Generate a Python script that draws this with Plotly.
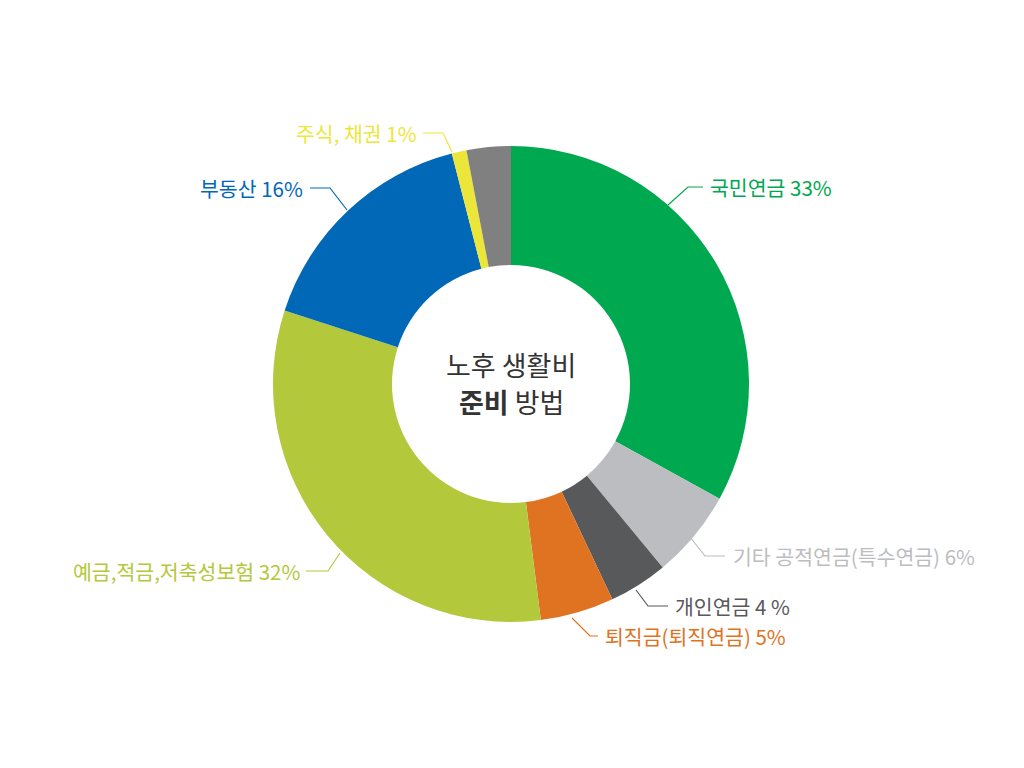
import plotly.graph_objects as go

labels = ["국민연금", "기타 공적연금(특수연금)", "개인연금", "퇴직금(퇴직연금)",
          "예금,적금,저축성보험", "부동산", "주식, 채권", "기타"]
values = [33, 6, 4, 5, 32, 16, 1, 3]
colors = ["#00a84f", "#bcbdc0", "#58595b", "#e07322",
          "#b3c83a", "#0068b6", "#ece63a", "#808080"]
label_texts = ["국민연금 33%", "기타 공적연금(특수연금) 6%", "개인연금 4 %", "퇴직금(퇴직연금) 5%",
               "예금,적금,저축성보험 32%", "부동산 16%", "주식, 채권 1%", None]
center_lines = ["노후 생활비", "<b>준비</b> 방법"]

W, H = 1024, 768
cx, cy, R = 511, 384, 238

fig = go.Figure(go.Pie(
    labels=labels, values=values, sort=False, direction="clockwise", rotation=0,
    hole=0.5, marker=dict(colors=colors, line=dict(width=0)),
    textinfo="none", hoverinfo="label+percent", showlegend=False,
    domain=dict(x=[(cx - R) / W, (cx + R) / W], y=[(H - cy - R) / H, (H - cy + R) / H]),
))

# label layout (pixel positions): leader polyline points, text anchor
leaders = [
    ([(668, 205), (688, 187), (703, 187)], (708, 187), "left"),
    ([(690, 537), (705, 556), (725, 556)], (731, 556), "left"),
    ([(636, 590), (648, 606), (668, 606)], (673, 606), "left"),
    ([(572, 618), (590, 636), (598, 636)], (603, 636), "left"),
    ([(340, 553), (328, 571), (306, 571)], (302, 571), "right"),
    ([(347, 210), (330, 188), (310, 188)], (305, 188), "right"),
    ([(452, 152), (443, 133), (423, 133)], (419, 133), "right"),
]

def px(x):
    return x / W

def py(y):
    return (H - y) / H

shapes = []
annotations = []
for i, (pts, (tx, ty), side) in enumerate(leaders):
    path = "M " + " L ".join(f"{px(x)},{py(y)}" for x, y in pts)
    shapes.append(dict(type="path", xref="paper", yref="paper", path=path,
                       line=dict(color=colors[i], width=1.2)))
    annotations.append(dict(text=label_texts[i], x=px(tx), y=py(ty), xref="paper", yref="paper",
                            xanchor=side, yanchor="middle", showarrow=False,
                            font=dict(size=20.5, color=colors[i], family="Noto Sans CJK KR")))

for line, ly in zip(center_lines, [364, 401]):
    annotations.append(dict(text=line, x=px(cx), y=py(ly), xref="paper", yref="paper",
                            xanchor="center", yanchor="middle", showarrow=False,
                            font=dict(size=27, color="#333333", family="Noto Sans CJK KR")))

fig.update_layout(width=W, height=H, margin=dict(l=0, r=0, t=0, b=0),
                  paper_bgcolor="white", plot_bgcolor="white",
                  shapes=shapes, annotations=annotations)

fig.write_html("out.html")
